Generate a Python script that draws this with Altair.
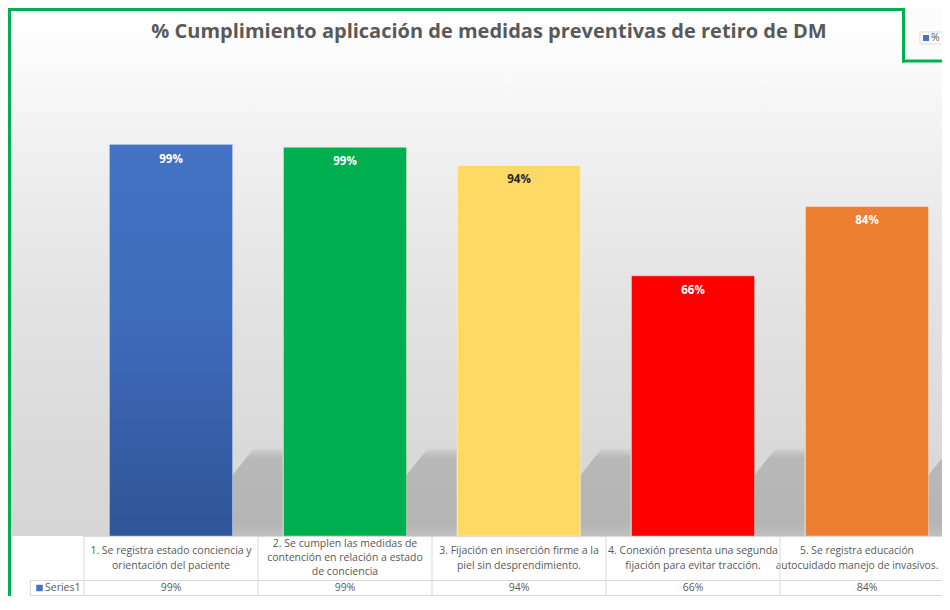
import altair as alt
import pandas as pd

# ---------------- data ----------------
categories = [
    "1. Se registra estado conciencia y orientación del paciente",
    "2. Se cumplen las medidas de contención en relación a estado de conciencia",
    "3. Fijación en inserción firme a la piel sin desprendimiento.",
    "4. Conexión presenta una segunda fijación para evitar tracción.",
    "5. Se registra educación autocuidado manejo de invasivos.",
]
category_lines = [
    "1. Se registra estado conciencia y\norientación del paciente",
    "2. Se cumplen las medidas de\ncontención en relación a estado\nde conciencia",
    "3. Fijación en inserción firme a la\npiel sin desprendimiento.",
    "4. Conexión presenta una segunda\nfijación para evitar tracción.",
    "5. Se registra educación\nautocuidado manejo de invasivos.",
]
values = [0.993, 0.986, 0.94, 0.66, 0.836]
bar_colors = ["#4472C4", "#00B050", "#FFD966", "#FF0000", "#ED7D31"]
label_colors = ["#FFFFFF", "#FFFFFF", "#262626", "#FFFFFF", "#FFFFFF"]
series_name = "Series1"
title_text = "% Cumplimiento aplicación de medidas preventivas de retiro de DM"
other_legend = "%"

df = pd.DataFrame({
    "idx": list(range(1, 6)),
    "cat": categories,
    "lines": category_lines,
    "value": values,
    "color": bar_colors,
    "lcolor": label_colors,
})
one = pd.DataFrame({"a": [0]})

W, H = 858, 473      # visible plot width (page is cut at the right like the reference)
FULL = 870           # full width of the five table columns
FONT = "Open Sans"
TXT = "#595959"
GRID = "#D9D9D9"
GREEN = "#00B050"

xs = alt.Scale(domain=categories, range=[0, FULL], paddingInner=0, paddingOuter=0)
X = alt.X("cat:N", axis=None, scale=xs)
X0 = alt.X("cat:N", axis=None, scale=xs, bandPosition=0)
Y = alt.Y("value:Q", axis=None, scale=alt.Scale(domain=[0, 1.2], nice=False, zero=True))

base = alt.Chart(df)

def grad(stops, x2=0, y2=1):
    return {
        "gradient": "linear", "x1": 0, "y1": 0, "x2": x2, "y2": y2,
        "stops": [{"offset": o, "color": c} for o, c in stops],
    }

# background
bg = alt.Chart(one).mark_rect(
    fill=grad([(0, "#FFFFFF"), (0.1, "#FBFBFB"), (0.27, "#F0F0F0"), (0.55, "#E3E3E3"),
               (0.83, "#DADADA"), (1, "#D6D6D6")])
).encode(x=alt.value(-76), x2=alt.value(FULL), y=alt.value(-55), y2=alt.value(H))
table_bg = alt.Chart(one).mark_rect(fill="#FFFFFF").encode(
    x=alt.value(-76), x2=alt.value(FULL), y=alt.value(H), y2=alt.value(H + 80))

# shadows behind bars
shadow = base.mark_bar(
    width=alt.RelativeBandSize(0.707), xOffset=50,
    fill=grad([(0, "#D2D2D2"), (0.1, "#B8B8B8"), (0.85, "#B5B5B5"), (1, "#C0C0C0")]),
).encode(x=X, y=alt.value(H - 87), y2=alt.value(H))
shadow_cut = base.mark_point(
    shape="M -1 -1 L 0.6 -1 L -1 1 Z", size=676, filled=True, opacity=1,
    color="#D9D9D9", xOffset=74.5,
).encode(x=X, y=alt.value(H - 74))

bars = base.mark_bar(
    width=alt.RelativeBandSize(0.707), stroke="#FFFFFF", strokeOpacity=0.35, strokeWidth=1
).encode(x=X, y=Y, fill=alt.Fill("color:N", scale=None, legend=None))

blue_grad = base.transform_filter("datum.idx == 1").mark_bar(
    width=alt.RelativeBandSize(0.707), stroke="#FFFFFF", strokeOpacity=0.35, strokeWidth=1,
    fill=grad([(0, "#4472C4"), (0.45, "#3F6BBC"), (1, "#2F5597")]),
).encode(x=X, y=Y)

bar_labels = base.mark_text(
    dy=15, baseline="middle", font=FONT, fontSize=11.5, fontWeight="bold"
).encode(x=X, y=Y, text=alt.Text("value:Q", format=".0%"),
         color=alt.Color("lcolor:N", scale=None, legend=None))

# data table
nl = base.transform_calculate(n="length(split(datum.lines, '\\n'))")
cat_text2 = nl.transform_filter("datum.n <= 2 && datum.idx < 5").mark_text(
    baseline="middle", font=FONT, fontSize=10.5, color=TXT, lineHeight=15, lineBreak="\n"
).encode(x=X, y=alt.value(H + 15), text="lines:N")
cat_text5 = nl.transform_filter("datum.idx == 5").mark_text(
    baseline="middle", font=FONT, fontSize=10.3, color=TXT, lineHeight=15, lineBreak="\n", dx=-10
).encode(x=X, y=alt.value(H + 15), text="lines:N")
cat_text3 = nl.transform_filter("datum.n > 2").mark_text(
    baseline="middle", font=FONT, fontSize=10.5, color=TXT, lineHeight=14, lineBreak="\n"
).encode(x=X, y=alt.value(H + 8), text="lines:N")
val_text = base.mark_text(
    baseline="middle", font=FONT, fontSize=10.5, color=TXT
).encode(x=X, y=alt.value(H + 52), text=alt.Text("value:Q", format=".0%"))

vlines = base.mark_rule(color=GRID, strokeWidth=1).encode(
    x=X0, y=alt.value(H), y2=alt.value(H + 60))
h1 = alt.Chart(one).mark_rule(color=GRID).encode(x=alt.value(0), x2=alt.value(FULL), y=alt.value(H + 0.5))
h2 = alt.Chart(one).mark_rule(color=GRID).encode(x=alt.value(-54), x2=alt.value(FULL), y=alt.value(H + 44.5))
h3 = alt.Chart(one).mark_rule(color=GRID).encode(x=alt.value(-54), x2=alt.value(FULL), y=alt.value(H + 59.5))
v0 = alt.Chart(one).mark_rule(color=GRID).encode(x=alt.value(-53.5), y=alt.value(H + 44), y2=alt.value(H + 60))

leg_sq = alt.Chart(one).mark_square(size=42, color="#4472C4", opacity=1).encode(
    x=alt.value(-44.5), y=alt.value(H + 52))
leg_tx = alt.Chart(one).mark_text(
    text=series_name, align="left", baseline="middle", font=FONT, fontSize=10.5, color=TXT
).encode(x=alt.value(-39), y=alt.value(H + 52))

# title
title = alt.Chart(one).mark_text(
    text=title_text, font=FONT, fontSize=20, fontWeight="bold", color=TXT, baseline="middle"
).encode(x=alt.value(405), y=alt.value(-31))

# green border
g_left = alt.Chart(one).mark_rule(color=GREEN, strokeWidth=3).encode(
    x=alt.value(-74.5), y=alt.value(-55), y2=alt.value(H + 80))
g_top = alt.Chart(one).mark_rule(color=GREEN, strokeWidth=3).encode(
    x=alt.value(-76), x2=alt.value(820), y=alt.value(-53.5))

# fragment of neighbouring chart (top right)
frag_bg = alt.Chart(one).mark_rect(fill="#FCFCFC").encode(
    x=alt.value(820), x2=alt.value(FULL), y=alt.value(-55), y2=alt.value(-3))
frag_v = alt.Chart(one).mark_rule(color=GREEN, strokeWidth=3).encode(
    x=alt.value(819.5), y=alt.value(-55), y2=alt.value(-0.5))
frag_h = alt.Chart(one).mark_rule(color=GREEN, strokeWidth=3).encode(
    x=alt.value(818), x2=alt.value(FULL), y=alt.value(-2))
frag_box = alt.Chart(one).mark_rect(fill="#FFFFFF", stroke=GRID, strokeWidth=1).encode(
    x=alt.value(836), x2=alt.value(FULL + 10), y=alt.value(-31), y2=alt.value(-19))
frag_sq = alt.Chart(one).mark_square(size=36, color="#4472C4", opacity=1).encode(
    x=alt.value(842), y=alt.value(-25))
frag_tx = alt.Chart(one).mark_text(
    text=other_legend, align="left", baseline="middle", font=FONT, fontSize=10.5, color=TXT
).encode(x=alt.value(847), y=alt.value(-25))

chart = alt.layer(
    bg, table_bg, shadow, shadow_cut, bars, blue_grad, bar_labels,
    cat_text2, cat_text5, cat_text3, val_text, vlines, h1, h2, h3, v0, leg_sq, leg_tx,
    title, g_left, g_top, frag_bg, frag_v, frag_h, frag_box, frag_sq, frag_tx,
).properties(
    width=W, height=H,
    autosize=alt.AutoSizeParams(type="none"),
    padding={"left": 76, "top": 55, "right": 0, "bottom": 60},
).configure_view(stroke=None)

chart.save("out.html", embed_options={"renderer": "svg", "actions": False})
